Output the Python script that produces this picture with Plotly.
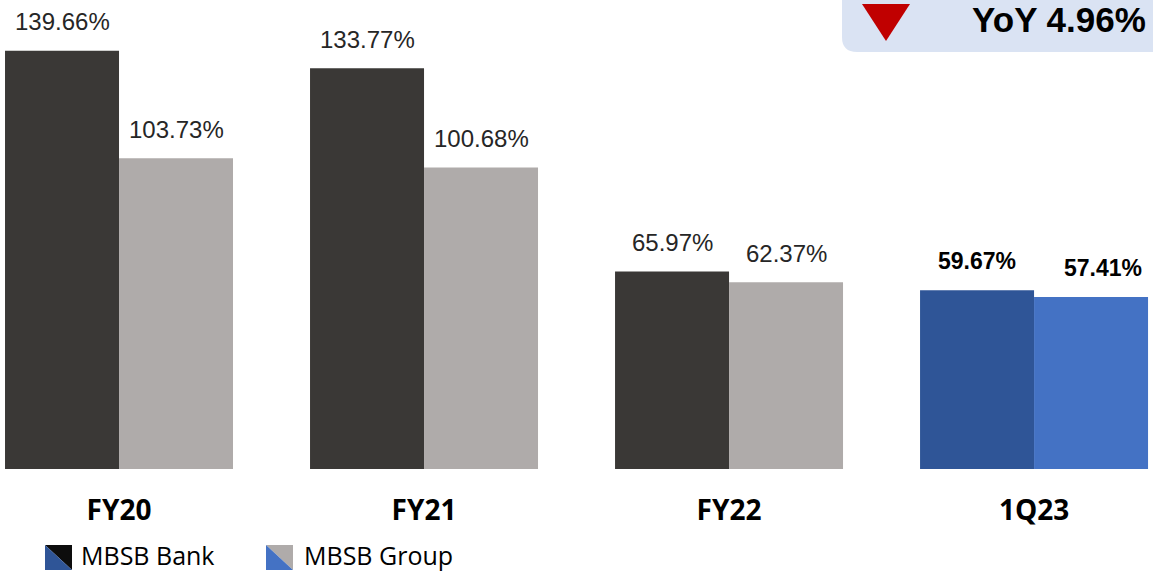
import plotly.graph_objects as go

categories = ["FY20", "FY21", "FY22", "1Q23"]
bank_values = [139.66, 133.77, 65.97, 59.67]
group_values = [103.73, 100.68, 62.37, 57.41]
bank_colors = ["#3A3836", "#3A3836", "#3A3836", "#2F5597"]
group_colors = ["#AFABAA", "#AFABAA", "#AFABAA", "#4472C4"]
series_names = ["MBSB Bank", "MBSB Group"]
yoy_text = "YoY 4.96%"

W, H = 1153, 571
PLOT_BOTTOM = 469  # px


def px_x(p):
    return p / W


def px_y(p):
    return (PLOT_BOTTOM - p) / PLOT_BOTTOM


fig = go.Figure()
fig.add_trace(go.Bar(x=categories, y=bank_values, name=series_names[0],
                     marker=dict(color=bank_colors, line=dict(width=0))))
fig.add_trace(go.Bar(x=categories, y=group_values, name=series_names[1],
                     marker=dict(color=group_colors, line=dict(width=0))))

annotations = []
for i, c in enumerate(categories):
    last = (i == len(categories) - 1)
    for j, (val, shift) in enumerate(((bank_values[i], -57), (group_values[i], 57))):
        extra = 12 if (last and j == 1) else 0
        annotations.append(dict(
            x=c, y=val, xref="x", yref="y", text=f"{val:.2f}%",
            showarrow=False, xshift=shift + extra, yshift=29, yanchor="middle",
            font=dict(family="Liberation Sans, Arial", size=23 if last else 24,
                      color="#000000" if last else "#262626",
                      weight="bold" if last else "normal")))

# YoY callout text
annotations.append(dict(x=px_x(1147), y=px_y(19), xref="paper", yref="paper",
                        text=f"<b>{yoy_text}</b>", showarrow=False,
                        xanchor="right", yanchor="middle", borderpad=0,
                        font=dict(family="Liberation Sans, Arial", size=35, color="#000000")))

# Legend text
for name, xpx in ((series_names[0], 79), (series_names[1], 302)):
    annotations.append(dict(x=px_x(xpx), y=px_y(555), xref="paper", yref="paper",
                            text=name, showarrow=False, xanchor="left", yanchor="middle",
                            font=dict(family="Open Sans", size=25, color="#000000")))

shapes = []
# callout box with rounded bottom-left corner
x0, x1 = px_x(842), px_x(1170)
y_top, y_bot = px_y(-20), px_y(52)
r = 15
path = (f"M {x0},{y_top} L {x0},{px_y(52 - r)} "
        f"Q {x0},{y_bot} {px_x(842 + r)},{y_bot} "
        f"L {x1},{y_bot} L {x1},{y_top} Z")
shapes.append(dict(type="path", path=path, xref="paper", yref="paper",
                   fillcolor="#DAE3F3", line=dict(width=0), layer="below"))
# red down triangle
tri = (f"M {px_x(862)},{px_y(4)} L {px_x(910)},{px_y(4)} "
       f"L {px_x(886)},{px_y(41)} Z")
shapes.append(dict(type="path", path=tri, xref="paper", yref="paper",
                   fillcolor="#C00000", line=dict(width=0)))

# legend icons (diagonally split squares)
for (lx, c_top, c_bot) in ((45, "#0D0D0D", bank_colors[-1]),
                           (266, group_colors[0], group_colors[-1])):
    xl, xr = px_x(lx), px_x(lx + 27)
    yt, yb = px_y(545), px_y(570)
    shapes.append(dict(type="path", path=f"M {xl},{yt} L {xr},{yt} L {xr},{yb} Z",
                       xref="paper", yref="paper", fillcolor=c_top, line=dict(width=0)))
    shapes.append(dict(type="path", path=f"M {xl},{yt} L {xr},{yb} L {xl},{yb} Z",
                       xref="paper", yref="paper", fillcolor=c_bot, line=dict(width=0)))

fig.update_layout(
    width=W, height=H,
    margin=dict(l=0, r=0, t=0, b=H - PLOT_BOTTOM, pad=0),
    paper_bgcolor="white", plot_bgcolor="white",
    barmode="group", bargap=0.2525, bargroupgap=0,
    showlegend=False,
    annotations=annotations, shapes=shapes,
    xaxis=dict(type="category", range=[-0.3902, 3.390], showgrid=False,
               showline=False, zeroline=False, ticks="",
               ticklabelstandoff=22,
               tickfont=dict(family="Open Sans", size=28, color="#000000", weight="bold")),
    yaxis=dict(range=[0, PLOT_BOTTOM / 2.995], visible=False),
)

fig.write_html("out.html")
